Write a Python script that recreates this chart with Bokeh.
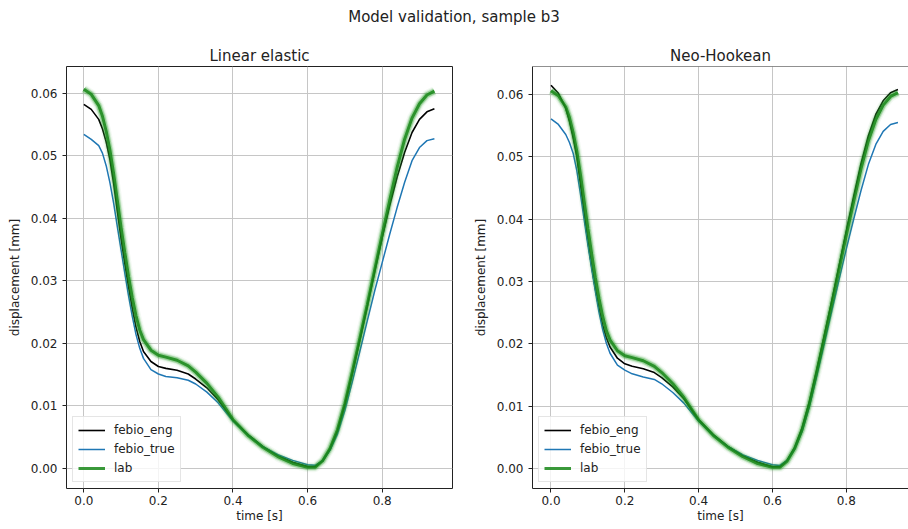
from bokeh.plotting import figure
from bokeh.models import (Range1d, FixedTicker, PrintfTickFormatter, Legend,
                          LegendItem, Span, Div, ColumnDataSource)
from bokeh.layouts import column, row
from bokeh.embed import file_html
from bokeh.resources import INLINE

# ---------------- data ----------------
suptitle = "Model validation, sample b3"
panel_titles = ["Linear elastic", "Neo-Hookean"]
series_names = ["febio_eng", "febio_true", "lab"]

time_s = [0.00, 0.02, 0.04, 0.05, 0.06, 0.07, 0.08, 0.09, 0.10, 0.11,
          0.12, 0.13, 0.14, 0.15, 0.16, 0.18, 0.20, 0.22, 0.25, 0.28,
          0.30, 0.33, 0.36, 0.40, 0.44, 0.48, 0.52, 0.56, 0.60, 0.62,
          0.64, 0.66, 0.68, 0.70, 0.72, 0.74, 0.76, 0.78, 0.80, 0.82,
          0.84, 0.86, 0.88, 0.90, 0.92, 0.94]

lab = [0.0606, 0.0598, 0.0580, 0.0563, 0.0539, 0.0509, 0.0471, 0.0428, 0.0385, 0.0345,
       0.0307, 0.0273, 0.0244, 0.0221, 0.0206, 0.0189, 0.0181, 0.0178, 0.0173, 0.0164,
       0.0154, 0.0136, 0.0114, 0.0078, 0.0053, 0.0034, 0.0019, 0.0008, 0.0002, 0.0002,
       0.0012, 0.0032, 0.0062, 0.0104, 0.0155, 0.0208, 0.0262, 0.0318, 0.0374, 0.0428,
       0.0481, 0.0526, 0.0560, 0.0583, 0.0597, 0.0603]

lin_eng = [0.0582, 0.0574, 0.0558, 0.0543, 0.0522, 0.0494, 0.0456, 0.0411, 0.0367, 0.0327,
           0.0290, 0.0256, 0.0226, 0.0203, 0.0187, 0.0171, 0.0163, 0.0160, 0.0157, 0.0151,
           0.0143, 0.0129, 0.0110, 0.0077, 0.0054, 0.0035, 0.0021, 0.0010, 0.0003, 0.0003,
           0.0012, 0.0031, 0.0060, 0.0102, 0.0152, 0.0205, 0.0259, 0.0315, 0.0369, 0.0420,
           0.0466, 0.0505, 0.0537, 0.0558, 0.0570, 0.0575]

lin_true = [0.0534, 0.0526, 0.0516, 0.0504, 0.0484, 0.0457, 0.0424, 0.0386, 0.0349, 0.0312,
            0.0276, 0.0243, 0.0214, 0.0192, 0.0176, 0.0158, 0.0151, 0.0147, 0.0145, 0.0141,
            0.0135, 0.0122, 0.0105, 0.0076, 0.0053, 0.0035, 0.0022, 0.0013, 0.0006, 0.0005,
            0.0012, 0.0029, 0.0055, 0.0093, 0.0139, 0.0187, 0.0236, 0.0284, 0.0329, 0.0374,
            0.0417, 0.0457, 0.0492, 0.0513, 0.0524, 0.0527]

neo_eng = [0.0615, 0.0602, 0.0578, 0.0557, 0.0531, 0.0500, 0.0456, 0.0407, 0.0364, 0.0325,
           0.0289, 0.0257, 0.0230, 0.0210, 0.0195, 0.0177, 0.0168, 0.0164, 0.0160, 0.0154,
           0.0146, 0.0131, 0.0112, 0.0078, 0.0054, 0.0035, 0.0021, 0.0010, 0.0003, 0.0003,
           0.0013, 0.0033, 0.0064, 0.0107, 0.0158, 0.0212, 0.0267, 0.0324, 0.0381, 0.0436,
           0.0489, 0.0534, 0.0568, 0.0590, 0.0603, 0.0608]

neo_true = [0.0561, 0.0552, 0.0536, 0.0523, 0.0506, 0.0478, 0.0440, 0.0399, 0.0359, 0.0321,
            0.0285, 0.0251, 0.0223, 0.0201, 0.0185, 0.0166, 0.0158, 0.0152, 0.0147, 0.0143,
            0.0136, 0.0122, 0.0105, 0.0076, 0.0053, 0.0035, 0.0022, 0.0013, 0.0006, 0.0005,
            0.0013, 0.0031, 0.0059, 0.0099, 0.0148, 0.0199, 0.0251, 0.0302, 0.0352, 0.0400,
            0.0446, 0.0488, 0.0520, 0.0541, 0.0552, 0.0555]

x_ticks = [0.0, 0.2, 0.4, 0.6, 0.8]
y_ticks = [0.00, 0.01, 0.02, 0.03, 0.04, 0.05, 0.06]

# ---------------- styling ----------------
FONT = "DejaVu Sans"
TXT = "#222222"
FRAME = "#222222"
GRID = "#c6c6c6"
C_ENG = "#000000"
C_TRUE = "#1f77b4"
C_LAB = "#2ca02c"
C_LAB_CORE = "#178717"


def make_panel(title, eng, true, xr, yr, width, mb_left, mb_right, full_box):
    p = figure(width=width, height=495, x_range=Range1d(*xr), y_range=Range1d(*yr),
               output_backend="svg", toolbar_location=None, title=title,
               min_border_left=mb_left, min_border_right=mb_right,
               min_border_top=32, min_border_bottom=41)
    p.background_fill_color = "white"
    p.border_fill_color = "white"

    p.title.text_font = FONT
    p.title.text_font_size = "15px"
    p.title.text_font_style = "normal"
    p.title.text_color = TXT
    p.title.align = "center"
    p.title.standoff = 3

    p.xaxis.ticker = FixedTicker(ticks=x_ticks)
    p.yaxis.ticker = FixedTicker(ticks=y_ticks)
    p.xaxis.formatter = PrintfTickFormatter(format="%.1f")
    p.yaxis.formatter = PrintfTickFormatter(format="%.2f")
    p.xaxis.axis_label = "time [s]"
    p.yaxis.axis_label = "displacement [mm]"
    for ax in (p.xaxis, p.yaxis):
        ax.axis_label_text_font = FONT
        ax.axis_label_text_font_size = "12px"
        ax.axis_label_text_font_style = "normal"
        ax.axis_label_text_color = TXT
        ax.major_label_text_font = FONT
        ax.major_label_text_font_size = "12px"
        ax.major_label_text_color = TXT
        ax.major_tick_line_color = FRAME
        ax.major_tick_out = 4
        ax.major_tick_in = 0
        ax.minor_tick_line_color = None
    p.xaxis.major_label_standoff = 3
    p.xaxis.axis_label_standoff = 1
    p.yaxis.major_label_standoff = 5
    p.yaxis.axis_label_standoff = 6

    p.xgrid.grid_line_color = GRID
    p.ygrid.grid_line_color = GRID
    p.xgrid.grid_line_width = 1
    p.ygrid.grid_line_width = 1

    if full_box:
        p.outline_line_color = FRAME
        p.outline_line_width = 1
        p.outline_line_alpha = 1
        p.xaxis.axis_line_color = None
        p.yaxis.axis_line_color = None
    else:
        p.outline_line_color = None
        p.xaxis.axis_line_color = FRAME
        p.yaxis.axis_line_color = FRAME
        p.add_layout(Span(location=yr[1], dimension="width",
                          line_color=FRAME, line_width=1))

    src = ColumnDataSource(dict(t=time_s, eng=eng, true=true, lab=lab))
    r_eng = p.line("t", "eng", source=src, line_color=C_ENG, line_width=1.6)
    r_true = p.line("t", "true", source=src, line_color=C_TRUE, line_width=1.5)
    for w, a in [(10, 0.06), (7.5, 0.14), (5.5, 0.35)]:
        p.line("t", "lab", source=src, line_color=C_LAB, line_width=w, line_alpha=a)
    r_lab = p.line("t", "lab", source=src, line_color=C_LAB_CORE, line_width=3,
                   line_alpha=0.85)

    legend = Legend(items=[LegendItem(label=series_names[0], renderers=[r_eng]),
                           LegendItem(label=series_names[1], renderers=[r_true]),
                           LegendItem(label=series_names[2], renderers=[r_lab])],
                    location="bottom_left", margin=6, padding=5, spacing=3,
                    glyph_width=27, glyph_height=16, label_height=16,
                    label_standoff=9, label_text_font=FONT,
                    label_text_font_size="12px", label_text_color=TXT,
                    border_line_color="#cccccc", border_line_width=1,
                    background_fill_color="white", background_fill_alpha=0.8)
    p.add_layout(legend)
    return p


p1 = make_panel(panel_titles[0], lin_eng, lin_true, (-0.0464, 0.9885),
                (-0.0032, 0.06425), 470, 66, 18, True)
p2 = make_panel(panel_titles[1], neo_eng, neo_true, (-0.0501, 0.9686),
                (-0.0032, 0.0645), 438, 58, 0, False)

title_div = Div(text=suptitle, width=908, height=34, margin=0,
                styles={"text-align": "center", "font-family": "'DejaVu Sans'",
                        "font-size": "15px", "line-height": "34px",
                        "color": "#222222", "width": "908px"})

layout = column(title_div, row(p1, p2, spacing=0), spacing=0)

open("out.html", "w").write(file_html(layout, INLINE))
